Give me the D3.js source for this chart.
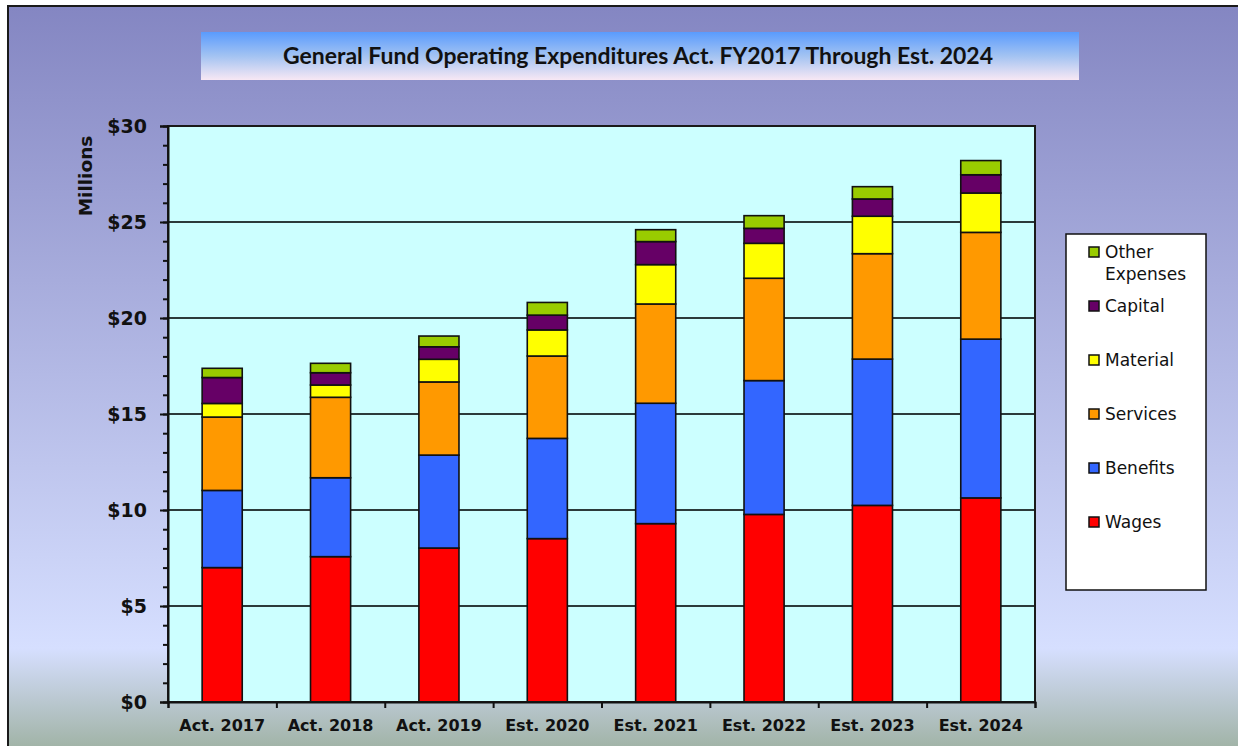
<!DOCTYPE html>
<html>
<head>
<meta charset="utf-8">
<script src="https://cdn.jsdelivr.net/npm/d3@7"></script>
<style>
  body { margin: 0; background: #ffffff; }
  svg { display: block; }
</style>
</head>
<body>
<div id="chart"></div>
<script>
// Chart data (millions of dollars)
var categories = ["Act. 2017", "Act. 2018", "Act. 2019", "Est. 2020", "Est. 2021", "Est. 2022", "Est. 2023", "Est. 2024"];
var wages    = [7.00, 7.57, 8.02, 8.51, 9.29, 9.77, 10.24, 10.63];
var benefits = [4.02, 4.11, 4.84, 5.22, 6.27, 6.97, 7.62, 8.27];
var services = [3.82, 4.19, 3.81, 4.29, 5.17, 5.33, 5.49, 5.56];
var material = [0.71, 0.64, 1.18, 1.36, 2.05, 1.82, 1.95, 2.05];
var capital  = [1.35, 0.64, 0.65, 0.77, 1.20, 0.78, 0.90, 0.95];
var other    = [0.48, 0.49, 0.56, 0.66, 0.62, 0.66, 0.64, 0.74];
var seriesNames = ["Wages", "Benefits", "Services", "Material", "Capital", "Other Expenses"];
var seriesColors = ["#ff0000", "#3366ff", "#ff9900", "#ffff00", "#660066", "#99cc00"];
var yTickValues = [0, 5, 10, 15, 20, 25, 30];
var titleText = "General Fund Operating Expenditures Act. FY2017 Through Est. 2024";
var yAxisTitle = "Millions";

var svgWidth = 1238;
var svgHeight = 746;

// plot area box
var plot = { left: 168, top: 126, right: 1035, bottom: 702 };

var svg = d3.select("#chart")
  .append("svg")
  .attr("width", svgWidth)
  .attr("height", svgHeight);

var defs = svg.append("defs");

// outer background gradient
var bgGrad = defs.append("linearGradient")
  .attr("id", "bgGrad")
  .attr("x1", 0).attr("y1", 0).attr("x2", 0).attr("y2", 1);
bgGrad.append("stop").attr("offset", "0%").attr("stop-color", "#8486c2");
bgGrad.append("stop").attr("offset", "84.5%").attr("stop-color", "#d6dfff");
bgGrad.append("stop").attr("offset", "100%").attr("stop-color", "#97ab96");

// title box gradient
var titleGrad = defs.append("linearGradient")
  .attr("id", "titleGrad")
  .attr("x1", 0).attr("y1", 0).attr("x2", 0).attr("y2", 1);
titleGrad.append("stop").attr("offset", "0%").attr("stop-color", "#5a9bfd");
titleGrad.append("stop").attr("offset", "50%").attr("stop-color", "#a3c3f2");
titleGrad.append("stop").attr("offset", "100%").attr("stop-color", "#f8e8f4");

svg.append("rect")
  .attr("x", 8).attr("y", 6)
  .attr("width", 1240).attr("height", 760)
  .attr("fill", "url(#bgGrad)")
  .attr("stroke", "#1a1a1a")
  .attr("stroke-width", 2);

// title
svg.append("rect")
  .attr("x", 201).attr("y", 32)
  .attr("width", 878).attr("height", 48)
  .attr("fill", "url(#titleGrad)");

svg.append("text")
  .attr("x", 638)
  .attr("y", 64)
  .attr("text-anchor", "middle")
  .attr("textLength", 710)
  .attr("lengthAdjust", "spacingAndGlyphs")
  .style("font-family", "Lato, 'Open Sans', sans-serif")
  .style("font-weight", "bold")
  .style("font-size", "22px")
  .attr("fill", "#111")
  .text(titleText);

// scales
var x = d3.scaleBand()
  .domain(categories)
  .range([plot.left, plot.right])
  .paddingInner(0.63)
  .paddingOuter(0.315);

var xEdges = d3.scaleLinear()
  .domain([0, categories.length])
  .range([plot.left, plot.right]);

var y = d3.scaleLinear()
  .domain([0, 30])
  .range([plot.bottom, plot.top]);

// plot background
svg.append("rect")
  .attr("x", plot.left).attr("y", plot.top)
  .attr("width", plot.right - plot.left)
  .attr("height", plot.bottom - plot.top)
  .attr("fill", "#ccffff");

// gridlines
svg.append("g")
  .selectAll("line")
  .data(yTickValues)
  .enter()
  .append("line")
  .attr("x1", plot.left).attr("x2", plot.right)
  .attr("y1", d => y(d)).attr("y2", d => y(d))
  .attr("stroke", "#2b3a3a")
  .attr("stroke-width", 2);

// stacked bars
var table = categories.map(function(c, i) {
  return {
    category: c,
    "Wages": wages[i],
    "Benefits": benefits[i],
    "Services": services[i],
    "Material": material[i],
    "Capital": capital[i],
    "Other Expenses": other[i]
  };
});

var stacked = d3.stack().keys(seriesNames)(table);

var layers = svg.append("g")
  .selectAll("g")
  .data(stacked)
  .enter()
  .append("g")
  .attr("fill", (d, i) => seriesColors[i]);

layers.selectAll("rect")
  .data(d => d)
  .enter()
  .append("rect")
  .attr("x", d => x(d.data.category))
  .attr("width", x.bandwidth())
  .attr("y", d => y(d[1]))
  .attr("height", d => y(d[0]) - y(d[1]))
  .attr("stroke", "#111")
  .attr("stroke-width", 1.6);

// plot border
svg.append("rect")
  .attr("x", plot.left).attr("y", plot.top)
  .attr("width", plot.right - plot.left)
  .attr("height", plot.bottom - plot.top)
  .attr("fill", "none")
  .attr("stroke", "#1a1a1a")
  .attr("stroke-width", 2);

// y axis: minor ticks, then major ticks with labels
var yMinor = d3.axisLeft(y)
  .tickValues(d3.range(0, 31, 1))
  .tickSize(5)
  .tickFormat("");

svg.append("g")
  .attr("transform", `translate(${plot.left}, 0)`)
  .call(yMinor)
  .call(g => g.select(".domain").remove())
  .selectAll("line")
  .attr("stroke", "#111")
  .attr("stroke-width", 2);

var yAxis = d3.axisLeft(y)
  .tickValues(yTickValues)
  .tickSize(8)
  .tickPadding(13)
  .tickFormat(d => "$" + d);

var yg = svg.append("g")
  .attr("transform", `translate(${plot.left}, 0)`)
  .call(yAxis);
yg.select(".domain").attr("stroke", "#111").attr("stroke-width", 2);
yg.selectAll(".tick line").attr("stroke", "#111").attr("stroke-width", 2);
yg.selectAll("text")
  .style("font-family", "'DejaVu Sans', Verdana, sans-serif")
  .style("font-weight", "bold")
  .style("font-size", "19px")
  .attr("fill", "#111");

// x axis: ticks at category edges
var xEdgeAxis = d3.axisBottom(xEdges)
  .tickValues(d3.range(0, categories.length + 1))
  .tickSize(6)
  .tickFormat("");

var xg = svg.append("g")
  .attr("transform", `translate(0, ${plot.bottom})`)
  .call(xEdgeAxis);
xg.select(".domain").attr("stroke", "#111").attr("stroke-width", 2);
xg.selectAll(".tick line").attr("stroke", "#111").attr("stroke-width", 2);

var xAxis = d3.axisBottom(x)
  .tickSize(0)
  .tickPadding(18);

var xl = svg.append("g")
  .attr("transform", `translate(0, ${plot.bottom})`)
  .call(xAxis);
xl.select(".domain").remove();
xl.selectAll("text")
  .style("font-family", "'DejaVu Sans', Verdana, sans-serif")
  .style("font-weight", "bold")
  .style("font-size", "16px")
  .attr("fill", "#111");

// y axis title
svg.append("text")
  .attr("transform", "translate(92, 176) rotate(-90)")
  .attr("text-anchor", "middle")
  .style("font-family", "'DejaVu Sans', Verdana, sans-serif")
  .style("font-weight", "bold")
  .style("font-size", "18.5px")
  .attr("fill", "#111")
  .text(yAxisTitle);

// legend (top entry is the last series)
var legend = svg.append("g");

legend.append("rect")
  .attr("x", 1066).attr("y", 234)
  .attr("width", 140).attr("height", 356)
  .attr("fill", "#ffffff")
  .attr("stroke", "#111")
  .attr("stroke-width", 1.5);

var legendOrder = seriesNames.map((n, i) => ({ name: n, color: seriesColors[i] })).reverse();
var legendY = d3.scalePoint()
  .domain(legendOrder.map(d => d.name))
  .range([252, 522]);

var items = legend.selectAll("g.item")
  .data(legendOrder)
  .enter()
  .append("g")
  .attr("class", "item")
  .attr("transform", d => `translate(1089, ${legendY(d.name)})`);

items.append("rect")
  .attr("x", 0).attr("y", -5)
  .attr("width", 10).attr("height", 10)
  .attr("fill", d => d.color)
  .attr("stroke", "#111")
  .attr("stroke-width", 1.5);

items.append("text")
  .attr("x", 16)
  .attr("y", 6)
  .style("font-family", "'DejaVu Sans', Verdana, sans-serif")
  .style("font-size", "17px")
  .attr("fill", "#111")
  .each(function(d) {
    var words = d.name.split(" ");
    var t = d3.select(this);
    words.forEach(function(w, k) {
      t.append("tspan")
        .attr("x", 16)
        .attr("dy", k === 0 ? 0 : 22)
        .text(w);
    });
  });
</script>
</body>
</html>
